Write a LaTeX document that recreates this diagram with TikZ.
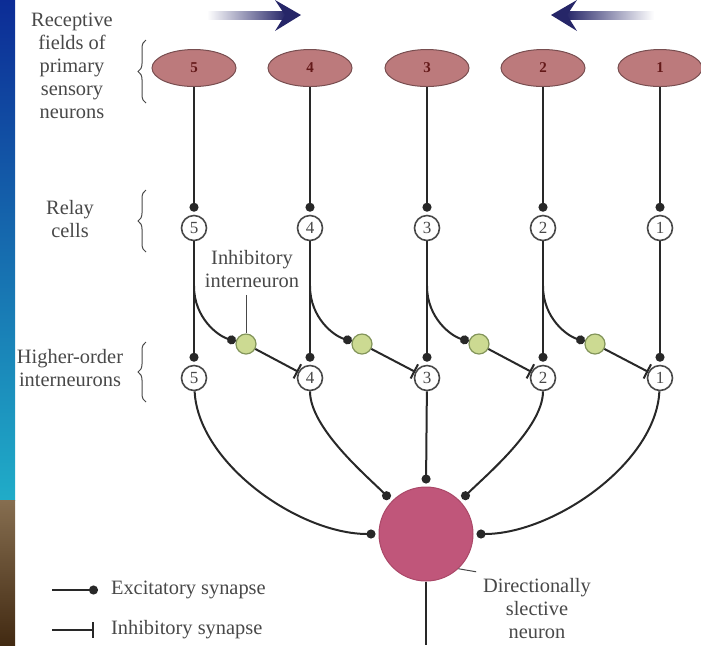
\documentclass[tikz,border=0pt]{standalone}
\usepackage{fontspec}
\setmainfont{Liberation Serif}
\usepackage{tikz}
\usetikzlibrary{arrows.meta,shapes.geometric,decorations.pathreplacing}
\definecolor{fieldred}{RGB}{188,122,124}
\definecolor{fieldedge}{RGB}{120,78,80}
\definecolor{fieldnum}{RGB}{100,25,25}
\definecolor{intgreen}{RGB}{204,218,146}
\definecolor{intedge}{RGB}{130,148,90}
\definecolor{dsnpink}{RGB}{192,86,122}
\definecolor{dsnedge}{RGB}{170,72,104}
\definecolor{navyarrow}{RGB}{38,38,104}
\definecolor{txtgray}{RGB}{72,72,72}
\definecolor{wiregray}{RGB}{40,40,40}
\definecolor{stripblue}{RGB}{12,44,150}
\definecolor{stripmid}{RGB}{24,96,176}
\definecolor{stripteal}{RGB}{32,172,200}
\definecolor{stripbrown}{RGB}{134,110,80}
\definecolor{stripdark}{RGB}{66,42,18}

\begin{document}
\begin{tikzpicture}[x=0.5pt,y=-0.5pt,
  txt/.style={text=txtgray,align=center,font=\fontsize{10.2}{11.5}\selectfont},
  field/.style={ellipse,fill=fieldred,draw=fieldedge,line width=0.5pt,minimum width=42pt,minimum height=18.5pt,inner sep=0pt,text=fieldnum,font=\fontsize{7.5}{7.5}\selectfont\bfseries},
  cell/.style={circle,draw=txtgray,fill=white,line width=0.8pt,minimum size=12.5pt,inner sep=0pt,text=txtgray,font=\fontsize{8.5}{8.5}\selectfont},
  inter/.style={circle,fill=intgreen,draw=intedge,line width=0.6pt,minimum size=10pt,inner sep=0pt},
  dsn/.style={circle,fill=dsnpink,draw=dsnedge,line width=0.5pt,minimum size=47pt,inner sep=0pt},
  wire/.style={draw=wiregray,line width=1pt},
  exc/.style={wire,-{Circle[length=4.5pt]},shorten >=1.5pt},
  inh/.style={wire,-{Bar[width=8pt,line width=1pt]}},
  lead/.style={draw=txtgray,line width=0.5pt},
  brace/.style={draw=txtgray,line width=0.5pt,decorate,decoration={brace,amplitude=4pt}}]
\useasboundingbox (0,0) rectangle (701,645);
\shade[top color=stripblue,middle color=stripmid,bottom color=stripteal] (0,0) rectangle (15,500);
\shade[top color=stripbrown,bottom color=stripdark] (0,500) rectangle (15,645);

\shade[left color=white,right color=navyarrow] (207,11) rectangle (286,19);
\fill[navyarrow] (301,15) -- (275,0) -- (285,15) -- (275,31) -- cycle;
\shade[left color=navyarrow,right color=white] (566,11) rectangle (654,19);
\fill[navyarrow] (551,15) -- (577,0) -- (567,15) -- (577,31) -- cycle;

\node[txt] (lfield) at (72,66) {Receptive\\fields of\\primary\\sensory\\neurons};
\node[txt] (lrelay) at (70,219) {Relay\\cells};
\node[txt] (lhigh) at (70,368) {Higher-order\\interneurons};
\draw[brace] (146,103) -- (146,40);
\draw[brace] (146,252) -- (146,190);
\draw[brace] (146,402) -- (146,342);

\node[field] (e5) at (194,68) {5};
\node[field] (e4) at (310,68) {4};
\node[field] (e3) at (427,68) {3};
\node[field] (e2) at (543,68) {2};
\node[field] (e1) at (660,68) {1};

\node[cell] (r5) at (194,228) {5};
\node[cell] (r4) at (310,228) {4};
\node[cell] (r3) at (427,228) {3};
\node[cell] (r2) at (543,228) {2};
\node[cell] (r1) at (660,228) {1};

\node[cell] (h5) at (194,378) {5};
\node[cell] (h4) at (310,378) {4};
\node[cell] (h3) at (427,378) {3};
\node[cell] (h2) at (543,378) {2};
\node[cell] (h1) at (660,378) {1};

\node[inter] (i5) at (246,344) {};
\node[inter] (i4) at (362,344) {};
\node[inter] (i3) at (479,344) {};
\node[inter] (i2) at (595,344) {};

\node[dsn] (out) at (426,534) {};

\coordinate (b5) at (194,286);
\coordinate (b4) at (310,286);
\coordinate (b3) at (427,286);
\coordinate (b2) at (543,286);
\coordinate (axon) at (426,645);

\draw[exc] (e5) -- (r5);
\draw[exc] (e4) -- (r4);
\draw[exc] (e3) -- (r3);
\draw[exc] (e2) -- (r2);
\draw[exc] (e1) -- (r1);

\draw[exc] (r5) -- (h5);
\draw[exc] (r4) -- (h4);
\draw[exc] (r3) -- (h3);
\draw[exc] (r2) -- (h2);
\draw[exc] (r1) -- (h1);

\draw[exc,shorten >=0pt] (b5) .. controls +(0,32) and +(-28,-8) .. (i5);
\draw[exc,shorten >=0pt] (b4) .. controls +(0,32) and +(-28,-8) .. (i4);
\draw[exc,shorten >=0pt] (b3) .. controls +(0,32) and +(-28,-8) .. (i3);
\draw[exc,shorten >=0pt] (b2) .. controls +(0,32) and +(-28,-8) .. (i2);

\draw[inh] (i5) -- (h4);
\draw[inh] (i4) -- (h3);
\draw[inh] (i3) -- (h2);
\draw[inh] (i2) -- (h1);

\draw[exc] (h5) .. controls +(4,85) and +(-80,0) .. (out.180);
\draw[exc] (h4) .. controls +(0,50) and +(-25,-25) .. (out.136);
\draw[exc] (h3) -- (out.90);
\draw[exc] (h2) .. controls +(0,50) and +(25,-25) .. (out.44);
\draw[exc] (h1) .. controls +(-4,85) and +(80,0) .. (out.0);
\draw[wire] (out) -- (axon);

\node[txt] (linter) at (252,269) {Inhibitory\\interneuron};
\draw[lead] (linter.south -| i5) -- (i5);
\node[txt] (lout) at (537,609) {Directionally\\slective\\neuron};
\draw[lead] (out.-47) -- (lout.north west);

\coordinate (ex0) at (52,590);
\coordinate (in0) at (52,630);
\node[txt,anchor=west] (lexc) at (104,590) {Excitatory synapse};
\node[txt,anchor=west] (linh) at (104,630) {Inhibitory synapse};
\draw[exc,shorten >=3pt] (ex0) -- (lexc.west);
\draw[inh,shorten >=5pt] (in0) -- (linh.west);
\end{tikzpicture}
\end{document}
